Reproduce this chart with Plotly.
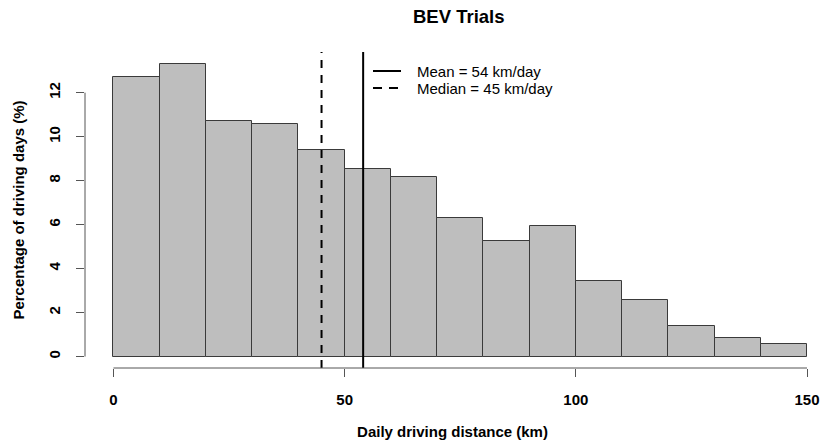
import plotly.graph_objects as go

# Data
bin_left = [0, 10, 20, 30, 40, 50, 60, 70, 80, 90, 100, 110, 120, 130, 140]
bin_width = 10
percent = [12.70, 13.29, 10.71, 10.57, 9.39, 8.53, 8.15, 6.29, 5.27, 5.95,
           3.45, 2.58, 1.41, 0.86, 0.56]
mean_km = 54
median_km = 45
x_ticks = [0, 50, 100, 150]
y_ticks = [0, 2, 4, 6, 8, 10, 12]

FONT = "Liberation Sans, Arial, Helvetica, sans-serif"

fig = go.Figure()
fig.add_trace(go.Bar(
    x=[b + bin_width / 2 for b in bin_left],
    y=percent,
    width=bin_width,
    marker=dict(color="#BEBEBE", line=dict(color="#3a3a3a", width=1)),
    showlegend=False,
    hoverinfo="skip",
))

# Mean / median vertical lines
fig.add_shape(type="line", xref="x", yref="paper", x0=mean_km, x1=mean_km,
              y0=0, y1=1, line=dict(color="black", width=2))
fig.add_shape(type="line", xref="x", yref="paper", x0=median_km, x1=median_km,
              y0=0, y1=1, line=dict(color="black", width=2, dash="8px,7px"))

# R-style detached axis lines
fig.add_shape(type="line", xref="x", yref="paper", x0=x_ticks[0], x1=x_ticks[-1],
              y0=0, y1=0, line=dict(color="#555555", width=1))
fig.add_shape(type="line", xref="paper", yref="y", x0=0, x1=0,
              y0=y_ticks[0], y1=y_ticks[-1], line=dict(color="#555555", width=1))

# Legend (R-style, no box)
fig.add_shape(type="line", xref="paper", yref="paper",
              x0=(373 - 85) / 735, x1=(401 - 85) / 735,
              y0=(368 - 71) / 316, y1=(368 - 71) / 316,
              line=dict(color="black", width=2))
fig.add_shape(type="line", xref="paper", yref="paper",
              x0=(373 - 85) / 735, x1=(401 - 85) / 735,
              y0=(368 - 88) / 316, y1=(368 - 88) / 316,
              line=dict(color="black", width=2, dash="9px,7px"))
fig.add_annotation(xref="paper", yref="paper", x=(415 - 85) / 735, y=(368 - 71) / 316,
                   text=f"Mean = {mean_km} km/day", showarrow=False,
                   xanchor="left", yanchor="middle",
                   font=dict(family=FONT, size=15, color="black"))
fig.add_annotation(xref="paper", yref="paper", x=(415 - 85) / 735, y=(368 - 88) / 316,
                   text=f"Median = {median_km} km/day", showarrow=False,
                   xanchor="left", yanchor="middle",
                   font=dict(family=FONT, size=15, color="black"))

# Title
fig.add_annotation(xref="paper", yref="paper", x=(459 - 85) / 735, y=(368 - 16) / 316,
                   text="<b>BEV Trials</b>", showarrow=False,
                   xanchor="center", yanchor="middle",
                   font=dict(family=FONT, size=18.5, color="black"))

fig.update_layout(
    width=820, height=444,
    margin=dict(l=85, r=0, t=52, b=76),
    paper_bgcolor="white", plot_bgcolor="white",
    font=dict(family=FONT, color="black"),
    bargap=0,
    xaxis=dict(
        range=[-6.16, 152.81], tickvals=x_ticks,
        ticktext=[f"<b>{v}</b>" for v in x_ticks],
        ticks="outside", ticklen=8, tickcolor="#555555", tickwidth=1,
        showline=False, showgrid=False, zeroline=False,
        tickfont=dict(family=FONT, size=15, color="black"),
        ticklabelstandoff=10,
        title=dict(text="<b>Daily driving distance (km)</b>",
                   font=dict(family=FONT, size=15, color="black"), standoff=19),
        automargin=False, fixedrange=True,
    ),
    yaxis=dict(
        range=[-0.52, 13.85], tickvals=y_ticks,
        ticktext=[f"<b>{v}</b>" for v in y_ticks],
        ticks="outside", ticklen=8, tickcolor="#555555", tickwidth=1,
        showline=False, showgrid=False, zeroline=False,
        tickangle=-90,
        tickfont=dict(family=FONT, size=15, color="black"),
        ticklabelstandoff=10,
        title=dict(text="<b>Percentage of driving days (%)</b>",
                   font=dict(family=FONT, size=15, color="black"), standoff=17),
        automargin=False, fixedrange=True,
    ),
)

fig.write_html("out.html")
